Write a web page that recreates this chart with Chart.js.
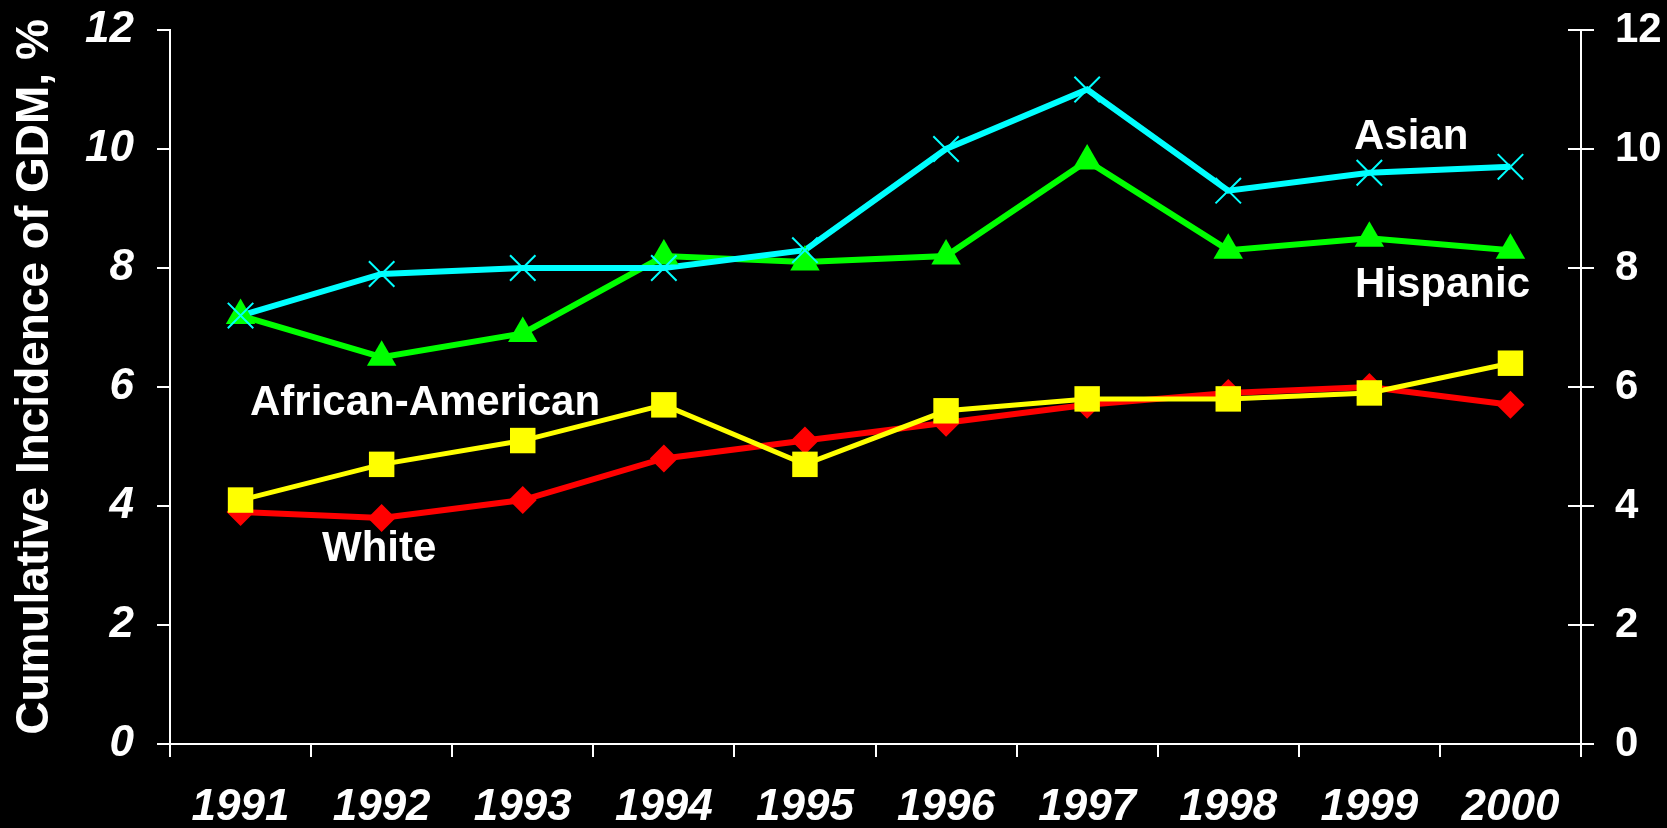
<!DOCTYPE html>
<html lang="en">
<head>
    <meta charset="UTF-8">
    <title>Cumulative Incidence of GDM</title>
    <script src="https://cdn.jsdelivr.net/npm/chart.js"></script>
    <style>
        body { margin: 0; background: #000; }
        canvas { display: block; }
    </style>
</head>
<body>
    <canvas id="myChart" width="1667" height="828"></canvas>

    <script>
        // years on the x axis
        const years = ['1991', '1992', '1993', '1994', '1995', '1996', '1997', '1998', '1999', '2000'];

        // incidence in %
        const asian = [7.2, 7.9, 8.0, 8.0, 8.3, 10.0, 11.0, 9.3, 9.6, 9.7];
        const hispanic = [7.2, 6.5, 6.9, 8.2, 8.1, 8.2, 9.8, 8.3, 8.5, 8.3];
        const africanAmerican = [4.1, 4.7, 5.1, 5.7, 4.7, 5.6, 5.8, 5.8, 5.9, 6.4];
        const white = [3.9, 3.8, 4.1, 4.8, 5.1, 5.4, 5.7, 5.9, 6.0, 5.7];

        const yTicks = [0, 2, 4, 6, 8, 10, 12];

        const yTitle = 'Cumulative Incidence of GDM, %';

        // the group names written next to the lines
        const seriesLabels = ['Asian', 'Hispanic', 'African-American', 'White'];

        const FONT = '"Liberation Sans", Arial, sans-serif';

        // on the slide all lines sit under all markers, so each series is
        // split in a line part and a marker part
        const series = [
            { label: seriesLabels[0], data: asian, color: '#00FFFF', width: 6, style: 'crossRot', radius: 18, pbw: 2 },
            { label: seriesLabels[1], data: hispanic, color: '#00FF00', width: 6, style: 'triangle', radius: 17, pbw: 0 },
            { label: seriesLabels[2], data: africanAmerican, color: '#FFFF00', width: 5, style: 'rect', radius: 18, pbw: 0 },
            { label: seriesLabels[3], data: white, color: '#FF0000', width: 6, style: 'rectRot', radius: 14, pbw: 0 }
        ];

        const datasets = [];
        series.forEach((s, i) => {
            datasets.push({
                label: s.label + ' line',
                data: s.data,
                borderColor: s.color,
                borderWidth: s.width,
                pointRadius: 0,
                order: 4 + i
            });
            datasets.push({
                label: s.label,
                data: s.data,
                showLine: false,
                backgroundColor: s.color,
                borderColor: s.color,
                pointStyle: s.style,
                pointRadius: s.radius,
                pointBorderWidth: s.pbw,
                pointBorderColor: s.color,
                order: i
            });
        });

        const labelPlugin = {
            id: 'seriesLabels',
            afterDraw(chart) {
                const ctx = chart.ctx;
                const right = chart.scales.yRight;
                ctx.save();
                // inner half of the right axis ticks
                ctx.strokeStyle = '#fff';
                ctx.lineWidth = 2;
                right.ticks.forEach(t => {
                    const y = right.getPixelForValue(t.value);
                    ctx.beginPath();
                    ctx.moveTo(right.left - 13, y);
                    ctx.lineTo(right.left, y);
                    ctx.stroke();
                });

                ctx.fillStyle = '#fff';
                ctx.font = 'bold 42px ' + FONT;
                ctx.textAlign = 'left';
                ctx.textBaseline = 'alphabetic';
                ctx.fillText(seriesLabels[0], 1354, 149);
                ctx.fillText(seriesLabels[1], 1355, 297);
                ctx.fillText(seriesLabels[2], 250, 415);
                ctx.fillText(seriesLabels[3], 322, 561);

                // y axis title, a bit above the middle like on the slide
                ctx.translate(35, 377);
                ctx.rotate(-Math.PI / 2);
                ctx.font = 'bold 46px ' + FONT;
                ctx.textAlign = 'center';
                ctx.textBaseline = 'middle';
                ctx.fillText(yTitle, 0, 0);
                ctx.restore();
            }
        };

        // no extra room above the top tick label
        function noVPad(s) {
            s.paddingTop = 0;
            s.paddingBottom = 0;
        }

        const ctx = document.getElementById('myChart').getContext('2d');
        new Chart(ctx, {
            type: 'line',
            data: {
                labels: years,
                datasets: datasets
            },
            options: {
                responsive: false,
                animation: false,
                clip: false,
                layout: { padding: { top: 30, left: 0, right: 0, bottom: 0 } },
                plugins: {
                    legend: { display: false },
                    tooltip: { enabled: false }
                },
                elements: { line: { tension: 0 } },
                scales: {
                    x: {
                        type: 'category',
                        offset: true,
                        afterFit: s => { s.height = 84; },
                        border: { color: '#fff', width: 2 },
                        grid: {
                            offset: true,
                            drawOnChartArea: false,
                            color: '#fff',
                            lineWidth: 2,
                            tickLength: 13
                        },
                        ticks: {
                            color: '#fff',
                            padding: 24,
                            maxRotation: 0,
                            autoSkip: false,
                            font: { family: FONT, size: 44, weight: 'bold', style: 'italic' }
                        }
                    },
                    y: {
                        position: 'left',
                        min: yTicks[0],
                        max: yTicks[yTicks.length - 1],
                        afterFit: s => { s.width = 170; noVPad(s); },
                        afterBuildTicks: s => { s.ticks = yTicks.map(v => ({ value: v })); },
                        border: { color: '#fff', width: 2 },
                        grid: {
                            drawOnChartArea: false,
                            color: '#fff',
                            lineWidth: 2,
                            tickLength: 13
                        },
                        ticks: {
                            color: '#fff',
                            padding: 23,
                            font: { family: FONT, size: 44, weight: 'bold', style: 'italic' }
                        }
                    },
                    yRight: {
                        position: 'right',
                        min: yTicks[0],
                        max: yTicks[yTicks.length - 1],
                        afterFit: s => { s.width = 86; noVPad(s); },
                        afterBuildTicks: s => { s.ticks = yTicks.map(v => ({ value: v })); },
                        border: { color: '#fff', width: 2 },
                        grid: {
                            drawOnChartArea: false,
                            color: '#fff',
                            lineWidth: 2,
                            tickLength: 13
                        },
                        ticks: {
                            color: '#fff',
                            padding: 21,
                            font: { family: FONT, size: 42, weight: 'bold' }
                        }
                    }
                }
            },
            plugins: [labelPlugin]
        });
    </script>
</body>
</html>
